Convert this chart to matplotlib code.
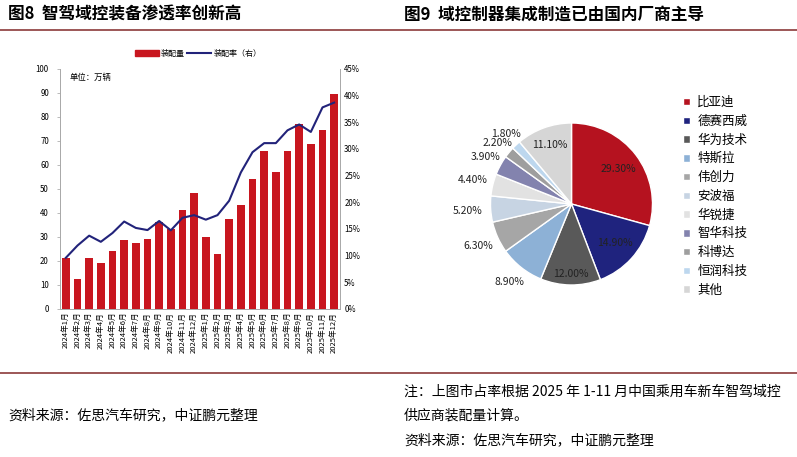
import numpy as np
import matplotlib.pyplot as plt
from matplotlib.patches import Patch
from matplotlib.lines import Line2D
from matplotlib.ticker import PercentFormatter

plt.rcParams['font.family'] = ['Noto Sans CJK SC', 'DejaVu Sans']

# --- data: fig 8 ---
months = ['2024年1月', '2024年2月', '2024年3月', '2024年4月', '2024年5月', '2024年6月',
          '2024年7月', '2024年8月', '2024年9月', '2024年10月', '2024年11月', '2024年12月',
          '2025年1月', '2025年2月', '2025年3月', '2025年4月', '2025年5月', '2025年6月',
          '2025年7月', '2025年8月', '2025年9月', '2025年10月', '2025年11月', '2025年12月']
volume = [21.1, 12.6, 21.4, 19.3, 24.0, 28.9, 27.6, 29.3, 36.1, 33.3, 41.1, 48.5,
          29.9, 22.8, 37.6, 43.2, 54.3, 65.8, 57.2, 65.7, 76.9, 68.9, 74.6, 89.6]
rate = [9.6, 11.9, 13.75, 12.6, 14.25, 16.4, 15.2, 14.8, 16.5, 14.75, 17.1, 17.6,
        16.75, 17.6, 20.3, 25.6, 29.4, 31.1, 31.1, 33.5, 34.6, 33.2, 37.8, 38.7]

# --- data: fig 9 ---
makers = ['比亚迪', '德赛西威', '华为技术', '特斯拉', '伟创力', '安波福',
          '华锐捷', '智华科技', '科博达', '恒润科技', '其他']
shares = [29.3, 14.9, 12.0, 8.9, 6.3, 5.2, 4.4, 3.9, 2.2, 1.8, 11.1]
pie_colors = ['#B5121F', '#1F237E', '#595959', '#8DB1D6', '#A6A6A6', '#C7D4E3',
              '#E2E2E2', '#8383AE', '#9E9E9E', '#BDD7EE', '#D6D6D6']
label_r = [0.72, 0.72, 0.86, 1.23, 1.26, 1.29, 1.25, 1.21, 1.19, 1.19, 0.77]

W, H = 797, 457
fig = plt.figure(figsize=(W / 100, H / 100), dpi=100)

def fx(px):
    return px / W

def fy(py):
    return 1 - py / H

# header / footer rules
line_col = '#8B3A3A'
fig.add_artist(Line2D([0, 1], [fy(30), fy(30)], transform=fig.transFigure, color=line_col, lw=1.2))
fig.add_artist(Line2D([0, 1], [fy(373), fy(373)], transform=fig.transFigure, color=line_col, lw=1.2))

fig.text(fx(8), fy(15), '图8  智驾域控装备渗透率创新高', fontsize=12, fontweight='bold', va='center')
fig.text(fx(404), fy(15), '图9  域控制器集成制造已由国内厂商主导', fontsize=12, fontweight='bold', va='center')

fig.text(fx(8), fy(415), '资料来源：佐思汽车研究，中证鹏元整理', fontsize=10, va='center')
fig.text(fx(404), fy(392), '注：上图市占率根据 2025 年 1-11 月中国乘用车新车智驾域控', fontsize=10, va='center')
fig.text(fx(404), fy(416), '供应商装配量计算。', fontsize=10, va='center')
fig.text(fx(404), fy(440), '资料来源：佐思汽车研究，中证鹏元整理', fontsize=10, va='center')

# --- bar + line chart ---
red = '#C8161F'
navy = '#22237A'
x = np.arange(len(months))
ax1 = fig.add_axes([fx(60), fy(309), fx(280), 240 / H])
ax1.bar(x, volume, width=0.68, color=red)
ax1.set_xlim(-0.5, len(months) - 0.5)
ax1.set_ylim(0, 100)
ax1.set_yticks(np.arange(0, 101, 10))
ax1.set_xticks(x)
ax1.set_xticklabels(months, rotation=90, fontsize=5.5)
ax1.tick_params(axis='y', labelsize=5.7, length=2, width=0.5, color='#A0A0A0', pad=6)
ax1.tick_params(axis='x', length=0, pad=2)

ax2 = ax1.twinx()
ax2.plot(x, rate, color=navy, lw=1.5)
ax2.set_ylim(0, 45)
ax2.set_yticks(np.arange(0, 46, 5))
ax2.yaxis.set_major_formatter(PercentFormatter(decimals=0))
ax2.tick_params(axis='y', labelsize=5.7, length=0, pad=3)

for a in (ax1, ax2):
    a.spines['top'].set_visible(False)
    for s in ('left', 'right', 'bottom'):
        a.spines[s].set_color('#A8A8A8')
        a.spines[s].set_linewidth(0.6)

ax1.text(0.035, 0.985, '单位：万辆', transform=ax1.transAxes, va='top', fontsize=6)

fig.legend(handles=[Patch(color=red), Line2D([], [], color=navy, lw=1.5)],
           labels=['装配量', '装配率（右）'], loc='center',
           bbox_to_anchor=(fx(198), fy(53)), ncol=2, frameon=False, fontsize=5.8,
           handlelength=3.0, handleheight=0.8, columnspacing=0.2, handletextpad=0.3)

# --- pie chart ---
ax3 = fig.add_axes([fx(481.5), fy(294), 180 / W, 180 / H])
R = 0.9
wedges, _ = ax3.pie(shares, colors=pie_colors, startangle=90, counterclock=False, radius=R,
                    wedgeprops=dict(edgecolor='white', linewidth=1.0))
ax3.set_xlim(-1, 1)
ax3.set_ylim(-1, 1)
ax3.set_aspect('equal')

for w, s, r in zip(wedges, shares, label_r):
    th = np.deg2rad((w.theta1 + w.theta2) / 2)
    ax3.text(r * R * np.cos(th), r * R * np.sin(th), f'{s:.2f}%',
             ha='center', va='center', fontsize=7.5, color='#222222')

ax3.legend(wedges, makers, loc='upper left', bbox_to_anchor=(fx(683), fy(96)),
           bbox_transform=fig.transFigure, frameon=False, fontsize=9,
           handlelength=0.55, handleheight=0.55, handletextpad=0.6,
           labelspacing=0.46, borderpad=0, borderaxespad=0)

fig.savefig('out.png', dpi=100)
